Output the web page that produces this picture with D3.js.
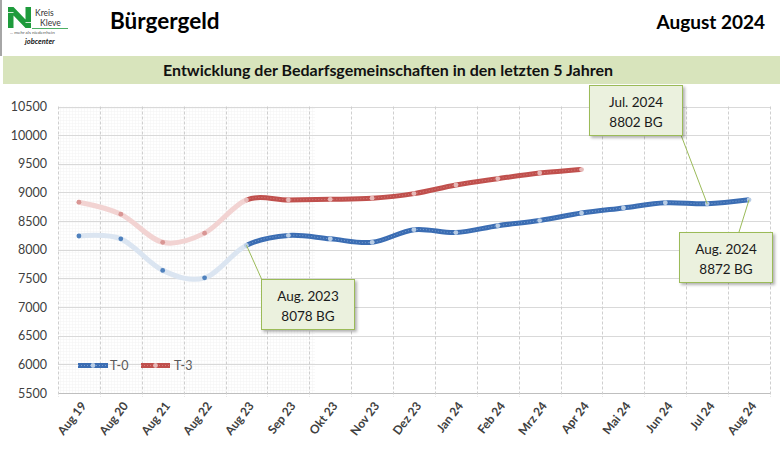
<!DOCTYPE html>
<html><head><meta charset="utf-8">
<script src="https://cdn.jsdelivr.net/npm/d3@7"></script>
<style>
html,body{margin:0;padding:0;background:#fff;}
svg{display:block;font-family:Lato,"Open Sans",sans-serif;}
</style></head>
<body>
<svg id="c" width="780" height="451"></svg>
<script>
// ---- data ----
const categories = ["Aug 19","Aug 20","Aug 21","Aug 22","Aug 23","Sep 23","Okt 23","Nov 23","Dez 23","Jan 24","Feb 24","Mrz 24","Apr 24","Mai 24","Jun 24","Jul 24","Aug 24"];
const seriesNames = ["T-0","T-3"];
const t0Values = [8240,8190,7640,7510,8078,8250,8190,8130,8350,8300,8420,8510,8640,8730,8820,8802,8872];
const t3Values = [8830,8620,8130,8290,8870,8870,8880,8900,8980,9130,9240,9340,9400,null,null,null,null];
const yTicks = [5500,6000,6500,7000,7500,8000,8500,9000,9500,10000,10500];
const calloutIdx = [4,15,16];
const calloutLines = [["Aug. 2023","8078 BG"],["Jul. 2024","8802 BG"],["Aug. 2024","8872 BG"]];
const title = "Bürgergeld";
const dateLabel = "August 2024";
const subtitle = "Entwicklung der Bedarfsgemeinschaften in den letzten 5 Jahren";

// ---- layout ----
const svg = d3.select("#c");
const L = 58, R = 770, T = 106.5, B = 393;
const x = d3.scaleBand().domain(categories).range([L, R]).padding(0);
const cx = c => x(c) + x.bandwidth() / 2;
const y = d3.scaleLinear().domain([5500, 10500]).range([B, T]);
const splitX = cx(categories[4]);

const defs = svg.append("defs");
const pat = defs.append("pattern").attr("id","mesh").attr("width",3).attr("height",3).attr("patternUnits","userSpaceOnUse");
pat.append("path").attr("d","M0,0.5H3M0.5,0V3").attr("stroke","#f2f2f2").attr("stroke-width",0.5);
defs.append("clipPath").attr("id","clipL").append("rect").attr("x",0).attr("y",0).attr("width",splitX).attr("height",451);
defs.append("clipPath").attr("id","clipR").append("rect").attr("x",splitX).attr("y",0).attr("width",780-splitX).attr("height",451);
const flt = defs.append("filter").attr("id","shadow").attr("x","-20%").attr("y","-20%").attr("width","150%").attr("height","150%");
flt.append("feDropShadow").attr("dx",2).attr("dy",2).attr("stdDeviation",1.5).attr("flood-color","#000").attr("flood-opacity",0.3);

// ---- header ----
svg.append("rect").attr("x",0).attr("y",0).attr("width",2).attr("height",56).attr("fill","#a6a6a6");
const logo = svg.append("g");
logo.append("path").attr("d","M8,7h5.5l12,12.5V7h5.5v21h-5.5l-12,-12.5V28H8z").attr("fill","#1e9b3c");
logo.append("path").attr("d","M8,12.5h5.5M25.5,22.5h5.5").attr("stroke","#fff").attr("stroke-width",0.8);
logo.append("text").attr("x",35).attr("y",16).attr("font-size",8.5).attr("fill","#333").text("Kreis");
logo.append("text").attr("x",40).attr("y",26).attr("font-size",8.5).attr("fill","#333").text("Kleve");
logo.append("line").attr("x1",32).attr("x2",68).attr("y1",28.5).attr("y2",28.5).attr("stroke","#1e9b3c").attr("stroke-width",0.8);
logo.append("text").attr("x",10).attr("y",34).attr("font-size",4.5).attr("fill","#555").text("... mehr als niederrhein");
logo.append("text").attr("x",25).attr("y",44).attr("font-size",7.5).attr("font-weight","bold").attr("font-style","italic").attr("fill","#222").text("jobcenter");

svg.append("text").attr("x",110).attr("y",29).attr("font-size",22.5).attr("font-weight","bold").attr("fill","#000").text(title);
svg.append("text").attr("x",765).attr("y",29).attr("text-anchor","end").attr("font-size",19).attr("font-weight","bold").attr("fill","#000").text(dateLabel);

svg.append("rect").attr("x",3).attr("y",56).attr("width",777).attr("height",28).attr("fill","#d8e4bc");
svg.append("text").attr("x",388).attr("y",76).attr("text-anchor","middle").attr("font-size",16).attr("font-weight","bold").attr("fill","#111").text(subtitle);

// ---- plot background ----
svg.append("rect").attr("x",L).attr("y",T).attr("width",315-L).attr("height",B-T).attr("fill","url(#mesh)");

// horizontal grid
svg.append("g").selectAll("line").data(yTicks).join("line")
  .attr("x1",L).attr("x2",R).attr("y1",d=>Math.round(y(d))+0.5).attr("y2",d=>Math.round(y(d))+0.5)
  .attr("stroke",d=>d===5500?"#bfbfbf":"#d9d9d9").attr("stroke-width",1);
// vertical grid at band boundaries
const bounds = categories.map(c=>x(c)).concat([R]);
svg.append("g").selectAll("line").data(bounds).join("line")
  .attr("x1",d=>Math.round(d)+0.5).attr("x2",d=>Math.round(d)+0.5).attr("y1",T).attr("y2",B+4)
  .attr("stroke","#cfcfcf").attr("stroke-width",1).attr("stroke-dasharray","3,2");

// y axis labels
const yAxis = d3.axisLeft(y).tickValues(yTicks).tickSize(0).tickPadding(0).tickFormat(d3.format("d"));
const ya = svg.append("g").attr("transform",`translate(47,0)`).call(yAxis);
ya.select(".domain").remove();
ya.selectAll("text").attr("font-size",12.5).attr("fill","#404040").attr("font-family","Lato,sans-serif");

// x axis labels
const xAxis = d3.axisBottom(x).tickSize(0).tickPadding(0);
const xa = svg.append("g").attr("transform",`translate(0,${B})`).call(xAxis);
xa.select(".domain").remove();
xa.selectAll("text").attr("font-size",12).attr("font-weight","bold").attr("fill","#404040")
  .attr("font-family","Lato,sans-serif").attr("text-anchor","end").attr("dy",0).attr("y",0)
  .attr("transform","translate(8,13) rotate(-52)");

// ---- lines ----
const series = [
  {name:seriesNames[0], vals:t0Values, solid:"#3b6db3", faded:"#dbe5f1", fadedMk:"#4f81bd", solidMk:"#b9cde5", tex:"#9fbbe0"},
  {name:seriesNames[1], vals:t3Values, solid:"#c0504d", faded:"#f2d3d2", fadedMk:"#d99694", solidMk:"#e6b9b8", tex:"#e09a98"}
];
const line = d3.line().defined(d=>d.v!=null).x(d=>cx(d.c)).y(d=>y(d.v)).curve(d3.curveCardinal.tension(0));
series.forEach(s=>{
  const pts = categories.map((c,i)=>({c, v:s.vals[i], i}));
  const g = svg.append("g");
  g.append("path").datum(pts).attr("d",line).attr("fill","none").attr("stroke",s.faded).attr("stroke-width",5)
    .attr("stroke-linecap","round").attr("clip-path","url(#clipL)");
  g.append("path").datum(pts).attr("d",line).attr("fill","none").attr("stroke",s.solid).attr("stroke-width",5)
    .attr("stroke-linecap","butt").attr("clip-path","url(#clipR)");
  g.append("path").datum(pts).attr("d",line).attr("fill","none").attr("stroke",s.tex).attr("stroke-width",1)
    .attr("stroke-dasharray","1,2").attr("opacity",0.6).attr("clip-path","url(#clipR)");
  g.selectAll("circle").data(pts.filter(d=>d.v!=null)).join("circle")
    .attr("cx",d=>cx(d.c)).attr("cy",d=>y(d.v)).attr("r",2.4)
    .attr("fill",d=>d.i<4?s.fadedMk:s.solidMk);
});

// ---- legend ----
const lg = svg.append("g");
[[78,108,110],[141,170,174]].forEach((p,i)=>{
  const s = series[i];
  lg.append("line").attr("x1",p[0]).attr("x2",p[1]).attr("y1",365.5).attr("y2",365.5).attr("stroke",s.solid).attr("stroke-width",5);
  lg.append("line").attr("x1",p[0]).attr("x2",p[1]).attr("y1",365.5).attr("y2",365.5).attr("stroke",s.tex).attr("stroke-width",1).attr("stroke-dasharray","1,2").attr("opacity",0.6);
  lg.append("circle").attr("cx",(p[0]+p[1])/2).attr("cy",365.5).attr("r",2.4).attr("fill",s.solidMk);
  lg.append("text").attr("x",p[2]).attr("y",370).attr("font-size",12.5).attr("fill","#595959").text(s.name);
});

// ---- callouts ----
const boxes = [{bx:261,by:279},{bx:589,by:85},{bx:679,by:232}];
const bw = 93, bh = 50;
calloutIdx.forEach((ci,k)=>{
  const c = categories[ci], px = cx(c), py = y(t0Values[ci]);
  const b = boxes[k];
  let ax, ay;
  if (k===0){ ax=b.bx+1; ay=b.by+1; }
  else if (k===1){ ax=b.bx+bw-1; ay=b.by+bh; }
  else { ax=b.bx+60; ay=b.by; }
  svg.append("line").attr("x1",px).attr("y1",py).attr("x2",ax).attr("y2",ay).attr("stroke","#9bbb59").attr("stroke-width",1);
  svg.append("rect").attr("x",b.bx+0.5).attr("y",b.by+0.5).attr("width",bw).attr("height",bh)
    .attr("fill","#ebf1de").attr("stroke","#9bbb59").attr("stroke-width",1).attr("filter","url(#shadow)");
  calloutLines[k].forEach((t,j)=>{
    svg.append("text").attr("x",b.bx+bw/2+0.5).attr("y",b.by+22+j*20).attr("text-anchor","middle")
      .attr("font-size",13.5).attr("fill","#1a1a1a").text(t);
  });
});
</script>
</body></html>
